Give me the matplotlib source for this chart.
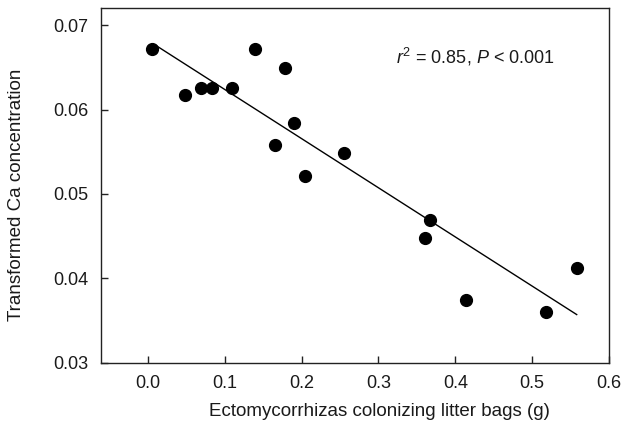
import matplotlib
matplotlib.use("Agg")
import matplotlib.pyplot as plt
import numpy as np

plt.rcParams['font.family'] = ['Liberation Sans', 'DejaVu Sans']
plt.rcParams['mathtext.fontset'] = 'custom'
plt.rcParams['mathtext.it'] = 'Liberation Sans:italic'
plt.rcParams['mathtext.rm'] = 'Liberation Sans'
plt.rcParams['text.color'] = '#1a1a1a'
plt.rcParams['xtick.labelcolor'] = '#1a1a1a'
plt.rcParams['ytick.labelcolor'] = '#1a1a1a'
plt.rcParams['axes.labelcolor'] = '#1a1a1a'

ecto_g = [0.006, 0.049, 0.069, 0.083, 0.110, 0.140, 0.179, 0.190, 0.165, 0.205,
          0.255, 0.367, 0.360, 0.414, 0.518, 0.558]
ca_trans = [0.0672, 0.0617, 0.0625, 0.0625, 0.0625, 0.0672, 0.0649, 0.0584, 0.0558, 0.0521,
            0.0549, 0.0469, 0.0448, 0.0375, 0.0360, 0.0412]
fit_intercept = 0.0682
fit_slope = -0.0582
fit_x_range = [0.010, 0.558]
x_ticks = [0.0, 0.1, 0.2, 0.3, 0.4, 0.5, 0.6]
y_ticks = [0.03, 0.04, 0.05, 0.06, 0.07]

fig = plt.figure(figsize=(6.23, 4.30), dpi=100)
ax = fig.add_axes([0.162, 0.156, 0.8155, 0.825])

fx = np.array(fit_x_range)
ax.plot(fx, fit_intercept + fit_slope * fx, color='black', lw=1.0, zorder=2)
ax.plot(ecto_g, ca_trans, 'o', color='black', markersize=8.5, zorder=3)

ax.set_xlim(-0.061, 0.6)
ax.set_ylim(0.03, 0.072)
ax.set_xticks(x_ticks)
ax.set_xticklabels([f"{v:.1f}" for v in x_ticks])
ax.set_yticks(y_ticks)
ax.set_yticklabels([f"{v:.2f}" for v in y_ticks])
ax.tick_params(direction='in', length=5, width=1, labelsize=13, color='#222222', pad=9)
for s in ax.spines.values():
    s.set_linewidth(1.0)
    s.set_color('#222222')

ax.set_xlabel('Ectomycorrhizas colonizing litter bags (g)', fontsize=13.5)
ax.set_ylabel('Transformed Ca concentration', fontsize=13.5)
ax.xaxis.set_label_coords(0.549, -0.113)
ax.yaxis.set_label_coords(-0.150, 0.475)

ax.text(0.323, 0.0662, r'$r^2$ = 0.85, $P$ < 0.001', fontsize=13, ha='left', va='center')

fig.savefig('out.png', dpi=100)
